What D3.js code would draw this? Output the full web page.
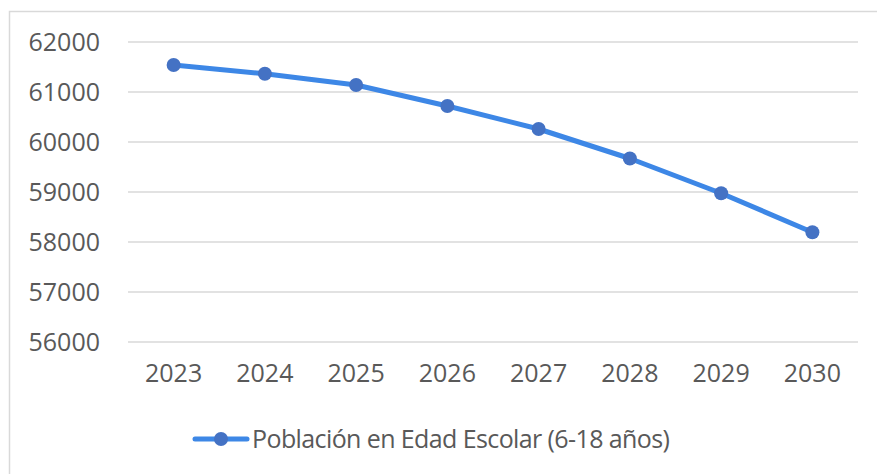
<!DOCTYPE html>
<html lang="es">
<head>
<meta charset="utf-8">
<script src="https://d3js.org/d3.v7.min.js"></script>
<style>
  body { margin: 0; background: #fff; }
  text { font-family: "Open Sans", sans-serif; fill: #595959; }
</style>
</head>
<body>
<script>
var years = ["2023", "2024", "2025", "2026", "2027", "2028", "2029", "2030"];
var poblacion = [61540, 61365, 61140, 60720, 60260, 59670, 58975, 58195];
var yTicks = [56000, 57000, 58000, 59000, 60000, 61000, 62000];
var seriesName = "Población en Edad Escolar (6-18 años)";

var width = 877, height = 474;
var margin = {left: 128, right: 19, top: 42, bottom: 132};

var svg = d3.select("body").append("svg")
    .attr("width", width)
    .attr("height", height);

// chart area border
svg.append("rect")
    .attr("x", 9.5).attr("y", 11.5)
    .attr("width", 880).attr("height", 480)
    .attr("fill", "none")
    .attr("stroke", "#d9d9d9")
    .attr("stroke-width", 1.5);

var x = d3.scaleBand()
    .domain(years)
    .range([margin.left, width - margin.right]);

var y = d3.scaleLinear()
    .domain([56000, 62000])
    .range([height - margin.bottom, margin.top]);

// gridlines
svg.append("g")
    .selectAll("line")
    .data(yTicks)
    .enter().append("line")
    .attr("x1", margin.left)
    .attr("x2", width - margin.right)
    .attr("y1", function(d) { return y(d); })
    .attr("y2", function(d) { return y(d); })
    .attr("stroke", "#d9d9d9")
    .attr("stroke-width", 1.5);

// y axis labels
var yAxis = svg.append("g")
    .attr("transform", "translate(" + (margin.left - 28) + ",0)")
    .call(d3.axisLeft(y).tickValues(yTicks).tickSize(0).tickPadding(0).tickFormat(d3.format("d")));
yAxis.select(".domain").remove();
yAxis.selectAll("text")
    .attr("font-size", 25)
    .style("font-family", "'Open Sans', sans-serif")
    .attr("fill", "#595959");

// x axis labels
var xAxis = svg.append("g")
    .attr("transform", "translate(0," + (height - margin.bottom) + ")")
    .call(d3.axisBottom(x).tickSize(0).tickPadding(22));
xAxis.select(".domain").remove();
xAxis.selectAll("text")
    .attr("font-size", 25)
    .style("font-family", "'Open Sans', sans-serif")
    .attr("fill", "#595959");

var cx = function(d, i) { return x(years[i]) + x.bandwidth() / 2; };

var line = d3.line()
    .x(function(d, i) { return x(years[i]) + x.bandwidth() / 2; })
    .y(function(d) { return y(d); });

svg.append("path")
    .datum(poblacion)
    .attr("d", line)
    .attr("fill", "none")
    .attr("stroke", "#3d87e6")
    .attr("stroke-width", 5)
    .attr("stroke-linejoin", "round")
    .attr("stroke-linecap", "round");

svg.append("g")
    .selectAll("circle")
    .data(poblacion)
    .enter().append("circle")
    .attr("cx", cx)
    .attr("cy", function(d) { return y(d); })
    .attr("r", 7)
    .attr("fill", "#4472c4");

// legend
var legend = svg.append("g").attr("transform", "translate(195,439)");
legend.append("line")
    .attr("x1", 0).attr("x2", 52)
    .attr("stroke", "#3d87e6")
    .attr("stroke-width", 5)
    .attr("stroke-linecap", "round");
legend.append("circle")
    .attr("cx", 26).attr("r", 7)
    .attr("fill", "#4472c4");
legend.append("text")
    .attr("x", 57)
    .attr("dy", "0.35em")
    .attr("font-size", 25)
    .attr("letter-spacing", "-0.6px")
    .text(seriesName);
</script>
</body>
</html>
